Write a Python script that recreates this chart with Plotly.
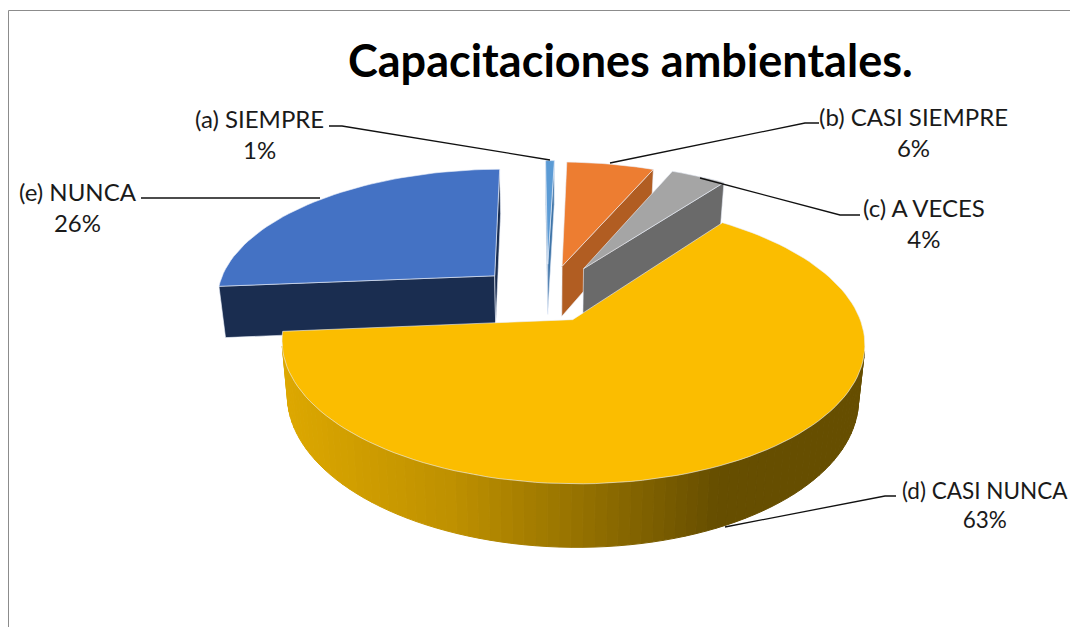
"""Capacitaciones ambientales: exploded 3D pie drawn as projected polygons."""

from __future__ import annotations

import math

import plotly.graph_objects as go

categories = ["(a) SIEMPRE", "(b) CASI SIEMPRE", "(c) A VECES", "(d) CASI NUNCA", "(e) NUNCA"]
values = [0.6, 6.0, 3.8, 63.4, 26.2]
explode = [0.27, 0.26, 0.27, 0.185, 0.26]
top_colors = ["#5B9BD5", "#ED7D31", "#A5A5A5", "#FBBD00", "#4472C4"]
wall_colors = ["#3F75A8", "#B15D22", "#6A6A6A", "#806000", "#1A2D50"]
draw_order = [4, 0, 1, 2, 3]

label_x = [259, 913, 924, 985, 78]
label_y = [134, 132, 223, 505, 207]
label_size = [24, 24, 24, 22.5, 24]

leader_x = [[329, 342, 550], [819, 805, 610], [860, 840, 700], [896, 885, 725], [141, 320]]
leader_y = [[126, 126, 160], [123, 123, 163], [215, 215, 178], [496, 496, 527], [198, 198]]

# horizontal shading of the big slice's rim
rim_x = [285, 450, 600, 720]
rim_rgb = [(221, 168, 0), (191, 145, 0), (143, 109, 0), (102, 78, 0)]

FONT = "Lato"
START_ANGLE = -0.5
CX, CY = 547.0, 298.0
R, K, P = 280.0, 0.465, 0.16
H, CONV = 52.0, 0.02


def project(px, py, depth=0.0):
    f = 1 / (1 - P * py)
    g = 1 - CONV * depth
    return CX + R * px * f * g, CY + R * K * py * f * g + H * f**1.25 * depth


def area(quad):
    total = 0
    for (x0, y0), (x1, y1) in zip(quad, quad[1:] + quad[:1]):
        total += x0 * y1 - x1 * y0
    return total


def rim_color(x):
    if x <= rim_x[0]:
        return "rgb(%d,%d,%d)" % rim_rgb[0]
    for i in range(len(rim_x) - 1):
        if x <= rim_x[i + 1]:
            t = (x - rim_x[i]) / (rim_x[i + 1] - rim_x[i])
            mix = [a + (b - a) * t for a, b in zip(rim_rgb[i], rim_rgb[i + 1])]
            return "rgb(%d,%d,%d)" % tuple(mix)
    return "rgb(%d,%d,%d)" % rim_rgb[-1]


def add_poly(fig, points, color, line_color=None, width=1.0):
    xs = [p[0] for p in points] + [points[0][0]]
    ys = [p[1] for p in points] + [points[0][1]]
    fig.add_trace(
        go.Scatter(
            x=xs,
            y=ys,
            mode="lines",
            fill="toself",
            fillcolor=color,
            line=dict(color=line_color or color, width=width),
            hoverinfo="skip",
            showlegend=False,
        )
    )


def add_slice(fig, start, sweep, pull, top_color, wall_color, shaded):
    mid = math.radians(start + sweep / 2)
    ox, oy = pull * math.sin(mid), -pull * math.cos(mid)
    steps = max(2, int(sweep / 2))
    angles = [math.radians(start + sweep * i / steps) for i in range(steps + 1)]
    rim = [(ox + math.sin(a), oy - math.cos(a)) for a in angles]

    apex_top, apex_bot = project(ox, oy), project(ox, oy, 1)
    first_top, first_bot = project(*rim[0]), project(*rim[0], 1)
    last_top, last_bot = project(*rim[-1]), project(*rim[-1], 1)

    edge = "rgba(235,240,250,0.75)"
    for quad in (
        [apex_top, first_top, first_bot, apex_bot],
        [last_top, apex_top, apex_bot, last_bot],
    ):
        if area(quad) < 0:
            add_poly(fig, quad, wall_color, edge, 0.8)

    for a, b in zip(rim, rim[1:]):
        quad = [project(*a), project(*b), project(*b, 1), project(*a, 1)]
        if area(quad) < 0:
            color = rim_color((quad[0][0] + quad[1][0]) / 2) if shaded else wall_color
            add_poly(fig, quad, color)

    add_poly(fig, [apex_top] + [project(*p) for p in rim], top_color, edge, 0.8)


total = sum(values)
sweeps = [v / total * 360 for v in values]
starts = [START_ANGLE + sum(sweeps[:i]) for i in range(len(values))]

fig = go.Figure()
for idx in draw_order:
    add_slice(fig, starts[idx], sweeps[idx], explode[idx], top_colors[idx], wall_colors[idx], idx == 3)

for xs, ys in zip(leader_x, leader_y):
    fig.add_trace(
        go.Scatter(x=xs, y=ys, mode="lines", line=dict(color="#111111", width=1.3),
                   hoverinfo="skip", showlegend=False)
    )

for i, name in enumerate(categories):
    fig.add_annotation(
        x=label_x[i], y=label_y[i], text=f"{name}<br>{round(values[i])}%", showarrow=False,
        font=dict(family=FONT, size=label_size[i], color="#1a1a1a"), align="center",
    )

fig.add_annotation(
    x=630, y=60, text="<b>Capacitaciones ambientales.</b>", showarrow=False,
    font=dict(family=FONT, size=45, color="#000000"),
)

fig.add_shape(type="line", x0=8.5, x1=8.5, y0=10.5, y1=627, line=dict(color="#8c8c8c", width=1))
fig.add_shape(type="line", x0=8.5, x1=1070, y0=10.5, y1=10.5, line=dict(color="#8c8c8c", width=1))

fig.update_xaxes(range=[0, 1070], visible=False)
fig.update_yaxes(range=[627, 0], visible=False)
fig.update_layout(
    width=1070, height=627, margin=dict(l=0, r=0, t=0, b=0),
    paper_bgcolor="white", plot_bgcolor="white", showlegend=False,
)

fig.write_html("out.html", config=dict(displayModeBar=False), post_script="document.body.style.margin='0';")
